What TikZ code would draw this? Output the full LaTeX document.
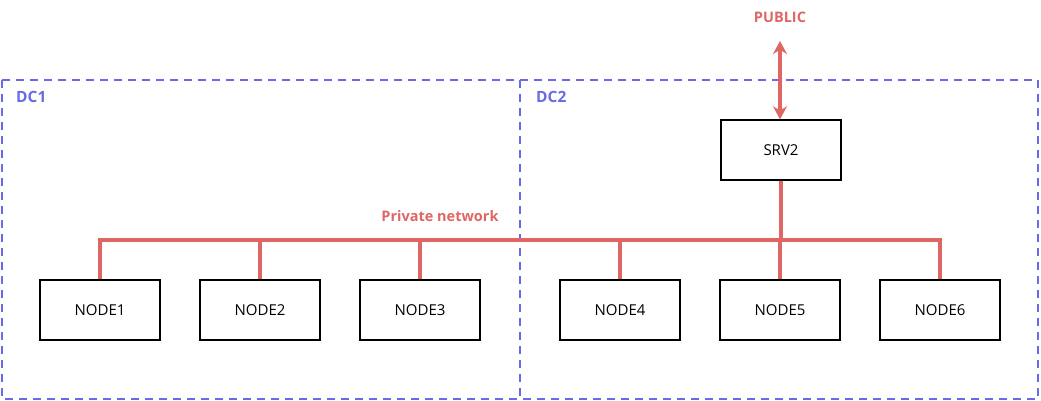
\documentclass[tikz,border=0pt]{standalone}
\usepackage{fontspec}
\setmainfont{Open Sans}
\usetikzlibrary{arrows.meta}
\definecolor{netred}{HTML}{E06666}
\definecolor{dcblue}{HTML}{6A6AE8}
\tikzset{
  box/.style={draw=black, line width=1.4pt, fill=white, minimum width=120pt, minimum height=60pt, inner sep=0pt, font=\fontsize{15}{17}\selectfont},
  zone/.style={draw=dcblue, line width=1.3pt, dash pattern=on 8pt off 6pt},
  zonelabel/.style={text=dcblue, font=\bfseries\fontsize{15.5}{17}\selectfont, anchor=west, inner sep=0pt},
  redlabel/.style={text=netred, font=\bfseries\fontsize{14.5}{16}\selectfont, inner sep=0pt},
  bus/.style={draw=netred, line width=4pt},
  drop/.style={draw=netred, line width=3.5pt},
}
\begin{document}
\begin{tikzpicture}[x=1pt,y=-1pt]
\useasboundingbox (0,0) rectangle (1041,401);
% zones
\draw[zone] (2,80) rectangle (520,399);
\draw[zone] (520,80) rectangle (1038,399);
\node[zonelabel] (dc1) at (16,97) {DC1};
\node[zonelabel] (dc2) at (536,97) {DC2};
% nodes
\node[box] (srv2) at (781,150) {SRV2};
\node[box] (n1) at (100,310) {NODE1};
\node[box] (n2) at (260,310) {NODE2};
\node[box] (n3) at (420,310) {NODE3};
\node[box] (n4) at (620,310) {NODE4};
\node[box] (n5) at (780,310) {NODE5};
\node[box] (n6) at (940,310) {NODE6};
% labels
\node[redlabel] (pub) at (780,17) {PUBLIC};
\node[redlabel] (priv) at (440,216) {Private network};
% bus
\coordinate (bl) at (100,240);
\coordinate (br) at (940,240);
\draw[bus] ([xshift=-1.75pt]bl) -- ([xshift=1.75pt]br);
\foreach \n in {n1,n2,n3,n4,n5,n6}{
  \draw[drop] (\n.north |- bl) -- (\n.north);
}
\draw[drop] (srv2.south) -- (srv2.south |- bl);
% public arrow
\coordinate (pubend) at (780,41);
\draw[netred, line width=4pt, {Stealth[length=13pt,width=14pt]}-{Stealth[length=13pt,width=14pt]}] (pubend) -- (srv2.north -| pubend);
\end{tikzpicture}
\end{document}
